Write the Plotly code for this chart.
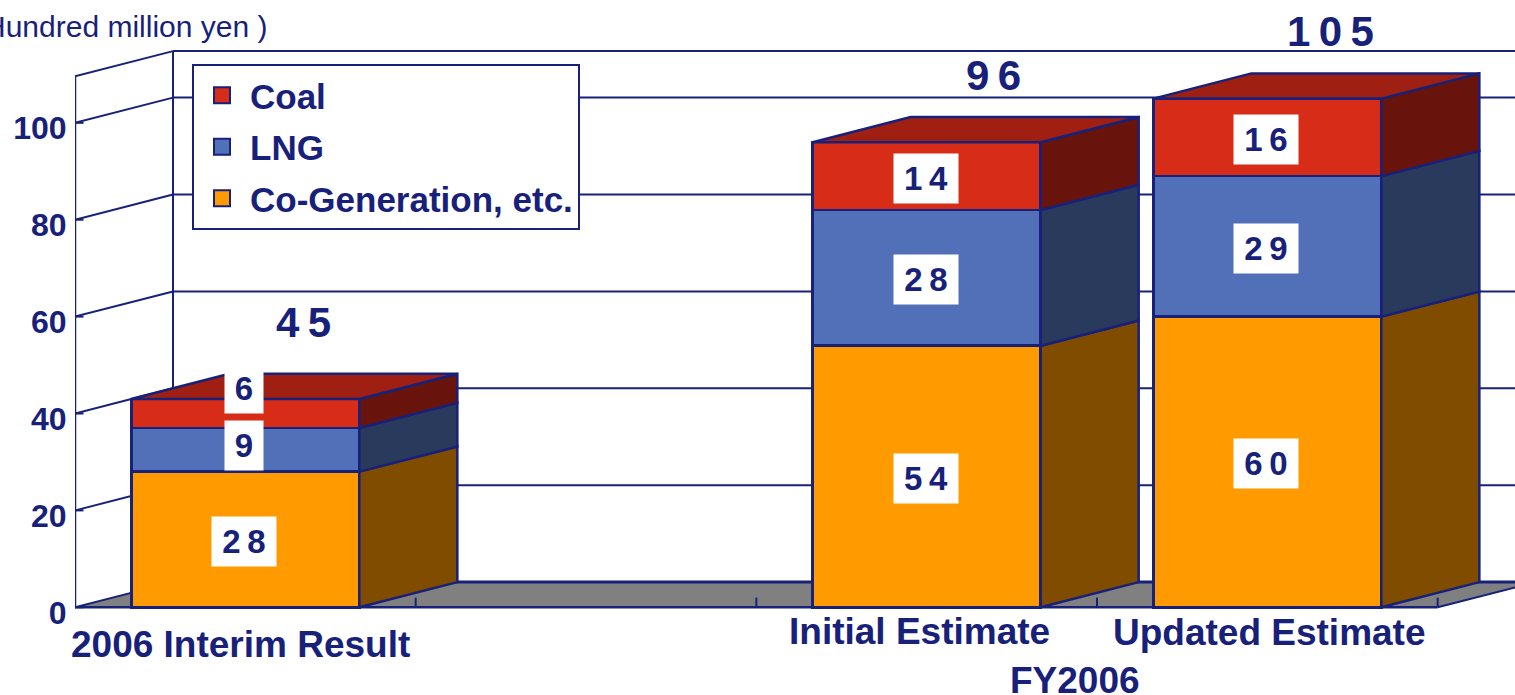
import plotly.graph_objects as go

# Chart data (hundred million yen)
categories = ["2006 Interim Result", "", "Initial Estimate", "Updated Estimate"]
cogeneration = [28, None, 54, 60]
lng = [9, None, 28, 29]
coal = [6, None, 14, 16]
totals = [45, None, 96, 105]
y_ticks = [0, 20, 40, 60, 80, 100]

NAVY = "#18217A"
FONT = "Liberation Sans"

# Pseudo-3D geometry, in axis units
SLOT_PX = 340.67
UNIT_PX = 4.845
BAR_W = 228 / SLOT_PX
DEPTH_X = 98 / SLOT_PX
DEPTH_Y = 5.2
Y_TOP = 109.6
LEFT_PX, PLOT_W, PLOT_H = 75, 1440, 617
X_MIN = -0.5
X_MAX = X_MIN + PLOT_W / SLOT_PX
Y_MIN = -2
Y_MAX = Y_MIN + PLOT_H / UNIT_PX

series = [
    ("Co-Generation, etc.", cogeneration, "#FF9B00", "#7F4C00"),
    ("LNG", lng, "#5170B7", "#2A3A5C"),
    ("Coal", coal, "#D72C17", "#68140C"),
]
TOP_FACE = "#9F2012"
positions = list(range(len(categories)))

fig = go.Figure()


def page_x(px):
    return (px - LEFT_PX) / PLOT_W


def page_y(px):
    return 1 - px / PLOT_H


def segment(x0, y0, x1, y1, width=2):
    return dict(type="line", xref="x", yref="y", x0=x0, y0=y0, x1=x1, y1=y1,
                layer="below", line=dict(color=NAVY, width=width))


# Walls and floor sit underneath the bars
shapes = [dict(type="path", xref="x", yref="y", layer="below",
               path=f"M {X_MIN} 0 L {X_MIN + DEPTH_X} {DEPTH_Y} L {X_MAX + DEPTH_X} {DEPTH_Y} "
                    f"L 3.5 {DEPTH_Y} L {3.5 + DEPTH_X} {DEPTH_Y} L 3.5 0 Z",
               fillcolor="#808080", line=dict(width=0))]
shapes.append(segment(X_MIN, 0, 3.5, 0, 2.5))
shapes.append(segment(3.5, 0, 3.5 + DEPTH_X, DEPTH_Y))
shapes.append(segment(X_MIN + DEPTH_X, DEPTH_Y, X_MAX, DEPTH_Y, 3))
shapes.append(segment(X_MIN, 0, X_MIN, Y_TOP, 2.5))
shapes.append(segment(X_MIN + DEPTH_X, DEPTH_Y, X_MIN + DEPTH_X, Y_TOP + DEPTH_Y))
shapes.append(segment(X_MIN, Y_TOP, X_MIN + DEPTH_X, Y_TOP + DEPTH_Y))
shapes.append(segment(X_MIN + DEPTH_X, Y_TOP + DEPTH_Y, X_MAX, Y_TOP + DEPTH_Y))
for v in y_ticks:
    shapes.append(segment(X_MIN, v, X_MIN + DEPTH_X, v + DEPTH_Y))
    shapes.append(segment(X_MIN, v, X_MIN + 0.025, v))
    if v:
        shapes.append(segment(X_MIN + DEPTH_X, v + DEPTH_Y, X_MAX, v + DEPTH_Y))
for k in range(1, 5):
    shapes.append(segment(X_MIN + k, 0, X_MIN + k, 2))

# Front faces of the stacked bars
for name, values, front, _ in series:
    fig.add_trace(go.Bar(x=positions, y=values, width=BAR_W, name=name, showlegend=False,
                         marker=dict(color=front, line=dict(color=NAVY, width=2.5)),
                         hoverinfo="skip"))

# Side and top faces, derived from the same stacked values
base = [0] * len(positions)
for name, values, _, side in series:
    xs, ys = [], []
    for i, v in enumerate(values):
        if v is None:
            continue
        right = i + BAR_W / 2
        xs += [right, right + DEPTH_X, right + DEPTH_X, right, right, None]
        ys += [base[i], base[i] + DEPTH_Y, base[i] + v + DEPTH_Y, base[i] + v, base[i], None]
        base[i] += v
    fig.add_trace(go.Scatter(x=xs, y=ys, mode="lines", fill="toself", fillcolor=side,
                             line=dict(color=NAVY, width=2.5), showlegend=False, hoverinfo="skip"))

xs, ys = [], []
for i, top in enumerate(base):
    if coal[i] is None:
        continue
    left, right = i - BAR_W / 2, i + BAR_W / 2
    xs += [left, left + DEPTH_X, right + DEPTH_X, right, left, None]
    ys += [top, top + DEPTH_Y, top + DEPTH_Y, top, top, None]
fig.add_trace(go.Scatter(x=xs, y=ys, mode="lines", fill="toself", fillcolor=TOP_FACE,
                         line=dict(color=NAVY, width=2.5), showlegend=False, hoverinfo="skip"))

# Legend entries, top to bottom
for name, _, front, _ in reversed(series):
    fig.add_trace(go.Scatter(x=[None], y=[None], mode="markers", name=name, legendgroup=name,
                             marker=dict(symbol="square", size=16, color=front,
                                         line=dict(color=NAVY, width=2))))

annotations = []


def spaced(value):
    return "\u2009".join(str(value))


# White value boxes on each segment; the short stack's boxes are nudged apart
box_nudge = {("Coal", 0): 25, ("LNG", 0): 4}
base = [0] * len(positions)
for name, values, _, _ in series:
    for i, v in enumerate(values):
        if v is None:
            continue
        annotations.append(dict(
            x=i, y=base[i] + v / 2, xref="x", yref="y", text=spaced(v), showarrow=False,
            width=64 if v >= 10 else 38, height=49, bgcolor="#FFFFFF", borderpad=0,
            xshift=-1, yshift=box_nudge.get((name, i), -2),
            font=dict(family=FONT, size=33, color=NAVY, weight="bold")))
        base[i] += v

# Stack totals above the bars
for i, t in enumerate(totals):
    if t is not None:
        annotations.append(dict(
            x=i, y=t, xref="x", yref="y", text=spaced(t), showarrow=False,
            xshift=[58, 0, 67, 63][i], yshift=67, yanchor="middle",
            font=dict(family=FONT, size=42, color=NAVY, weight="bold")))

# Category labels and the unit caption
for label, cx, cy in [(categories[0], 240, 644), (categories[2], 919, 631),
                      (categories[3], 1269, 632), ("FY2006", 1075, 680)]:
    annotations.append(dict(x=page_x(cx), y=page_y(cy), xref="paper", yref="paper", text=label,
                            showarrow=False, xanchor="center", yanchor="middle",
                            font=dict(family=FONT, size=37, color=NAVY, weight="bold")))
annotations.append(dict(x=page_x(269), y=page_y(26), xref="paper", yref="paper",
                        text="(Hundred million yen )", showarrow=False, xanchor="right",
                        yanchor="middle", font=dict(family=FONT, size=30, color=NAVY)))

fig.update_layout(
    width=1515, height=695, margin=dict(l=LEFT_PX, r=0, t=0, b=695 - PLOT_H, autoexpand=False),
    plot_bgcolor="#FFFFFF", paper_bgcolor="#FFFFFF", barmode="stack",
    shapes=shapes, annotations=annotations, hovermode=False,
    legend=dict(x=page_x(192), y=page_y(64), xanchor="left", yanchor="top",
                bgcolor="#FFFFFF", bordercolor=NAVY, borderwidth=2, itemwidth=46,
                traceorder="grouped", tracegroupgap=3, itemclick=False,
                font=dict(family=FONT, size=35, color=NAVY, weight="bold")),
    xaxis=dict(range=[X_MIN, X_MAX], showgrid=False, zeroline=False, showticklabels=False,
               ticks=""),
    yaxis=dict(range=[Y_MIN, Y_MAX], showgrid=False, zeroline=False, tickmode="array",
               tickvals=y_ticks, ticks="outside", ticklen=1, tickcolor="rgba(0,0,0,0)",
               ticklabelshift=5,
               tickfont=dict(family=FONT, size=32, color=NAVY, weight="bold")),
)

fig.write_html("out.html")
